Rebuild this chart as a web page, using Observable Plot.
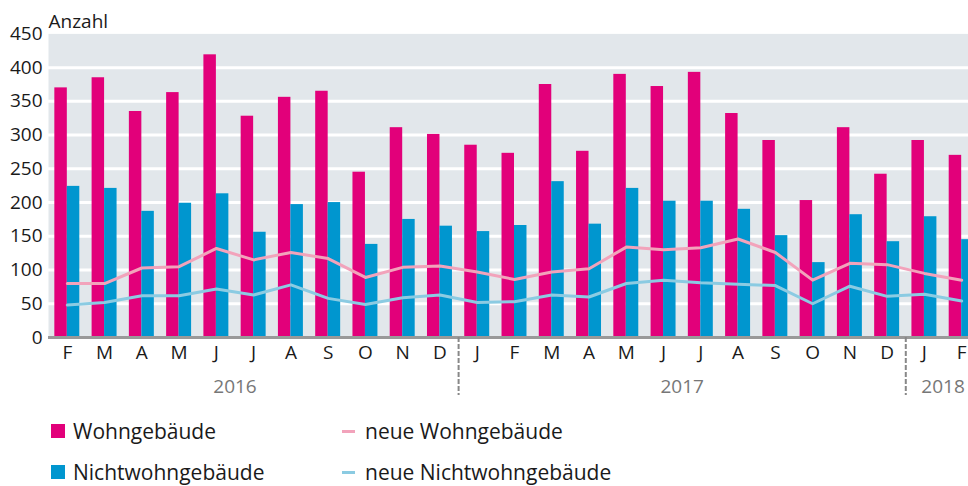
<!DOCTYPE html>
<html>
<head>
<meta charset="utf-8">
<script src="https://cdn.jsdelivr.net/npm/d3@7"></script>
<script src="https://cdn.jsdelivr.net/npm/@observablehq/plot@0.6"></script>
<style>
  html, body { margin: 0; padding: 0; background: #fff; overflow: hidden; }
  body { width: 968px; height: 486px; position: relative; font-family: "Open Sans", sans-serif; }
  #chart svg { max-width: none !important; display: block; }
  .legend { position: absolute; left: 0; top: 400px; width: 968px; height: 86px; font-size: 21px; color: #1a1a1a; }
  .item { position: absolute; display: flex; align-items: center; height: 20px; line-height: 20px; white-space: nowrap; }
  .sw { display: inline-block; width: 14px; height: 14px; margin-right: 8px; }
  .ln { display: inline-block; width: 13px; height: 3px; margin-right: 10px; }
</style>
</head>
<body>
<div id="chart"></div>
<div class="legend" id="legend"></div>
<script>
const months = ["2016-02","2016-03","2016-04","2016-05","2016-06","2016-07","2016-08","2016-09","2016-10","2016-11","2016-12",
  "2017-01","2017-02","2017-03","2017-04","2017-05","2017-06","2017-07","2017-08","2017-09","2017-10","2017-11","2017-12",
  "2018-01","2018-02"];
const monthLetters = ["F","M","A","M","J","J","A","S","O","N","D","J","F","M","A","M","J","J","A","S","O","N","D","J","F"];
const wohngebaeude = [370,385,335,363,419,328,356,365,245,311,301,285,273,375,276,390,372,393,332,292,203,311,242,292,270];
const nichtwohngebaeude = [224,221,187,199,213,156,197,200,138,175,165,157,166,231,168,221,202,202,190,151,111,182,142,179,145];
const neueWohngebaeude = [80,80,103,105,132,115,126,117,89,104,106,97,86,97,102,134,130,133,146,126,85,110,108,95,85];
const neueNichtwohngebaeude = [48,52,62,62,72,63,78,58,49,59,63,52,53,63,60,80,85,81,79,77,50,76,61,64,54];
const yTicks = [0,50,100,150,200,250,300,350,400,450];
const years = ["2016","2017","2018"];
const yearAnchors = ["2016-07","2017-07","2018-02"];
const yearSeparators = ["2017-01","2018-01"];

const colWohn = "#e2007a", colNicht = "#0096cf", colNeueWohn = "#f2a3bb", colNeueNicht = "#8bcbe2";

const W = 980, ML = 48, MR = 0, PI = 0.33, PO = 0.17;
const step = (W - ML - MR) / (months.length - PI + 2 * PO);
const bw = step * (1 - PI);

const rows = months.map((m, i) => ({m, w: wohngebaeude[i], n: nichtwohngebaeude[i], nw: neueWohngebaeude[i], nn: neueNichtwohngebaeude[i]}));
const letterOf = new Map(months.map((m, i) => [m, monthLetters[i]]));

const chart = Plot.plot({
  width: W, height: 400,
  marginLeft: ML, marginRight: MR, marginTop: 33.4, marginBottom: 63,
  style: {fontFamily: "Open Sans, sans-serif", fontSize: "19px", color: "#1a1a1a", background: "transparent", overflow: "visible", maxWidth: "none"},
  x: {domain: months, paddingInner: PI, paddingOuter: PO, round: false, axis: null},
  y: {domain: [0, 450], axis: null},
  marks: [
    Plot.frame({fill: "#e2e7eb", stroke: null}),
    Plot.ruleY(yTicks.filter(d => d > 0 && d < 450), {stroke: "#fff", strokeWidth: 3}),
    Plot.barY(rows, {x: "m", y: "w", fill: colWohn, insetRight: bw / 2}),
    Plot.barY(rows, {x: "m", y: "n", fill: colNicht, insetLeft: bw / 2}),
    Plot.line(rows, {x: "m", y: "nw", stroke: colNeueWohn, strokeWidth: 3}),
    Plot.line(rows, {x: "m", y: "nn", stroke: colNeueNicht, strokeWidth: 3}),
    Plot.ruleY([0], {stroke: "#999", strokeWidth: 3}),
    Plot.axisY({ticks: yTicks, tickSize: 0, tickPadding: 6, fontSize: 19, fill: "#1a1a1a", label: null}),
    Plot.axisX({tickFormat: d => letterOf.get(d), tickSize: 0, tickPadding: 8, fontSize: 19, fill: "#1a1a1a", label: null}),
    Plot.ruleX(yearSeparators, {x: d => d, dx: -step / 2, y1: 0, y2: -86, stroke: "#888", strokeWidth: 2, strokeDasharray: "5,2"}),
    Plot.text(years, {x: (d, i) => yearAnchors[i], dx: -step / 2, frameAnchor: "bottom", dy: 55, fill: "#777", fontSize: 19}),
    Plot.text(["Anzahl"], {frameAnchor: "top-left", textAnchor: "start", lineAnchor: "bottom", dy: -6, fontSize: 19, fill: "#1a1a1a"})
  ]
});
document.getElementById("chart").appendChild(chart);

const legendItems = [
  {label: "Wohngebäude", color: colWohn, type: "sw", left: 51, top: 21},
  {label: "Nichtwohngebäude", color: colNicht, type: "sw", left: 51, top: 62},
  {label: "neue Wohngebäude", color: colNeueWohn, type: "ln", left: 342, top: 21},
  {label: "neue Nichtwohngebäude", color: colNeueNicht, type: "ln", left: 342, top: 62}
];
const lg = document.getElementById("legend");
for (const it of legendItems) {
  const d = document.createElement("div");
  d.className = "item";
  d.style.left = it.left + "px";
  d.style.top = it.top + "px";
  const s = document.createElement("span");
  s.className = it.type;
  s.style.background = it.color;
  d.appendChild(s);
  d.appendChild(document.createTextNode(it.label));
  lg.appendChild(d);
}
</script>
</body>
</html>
